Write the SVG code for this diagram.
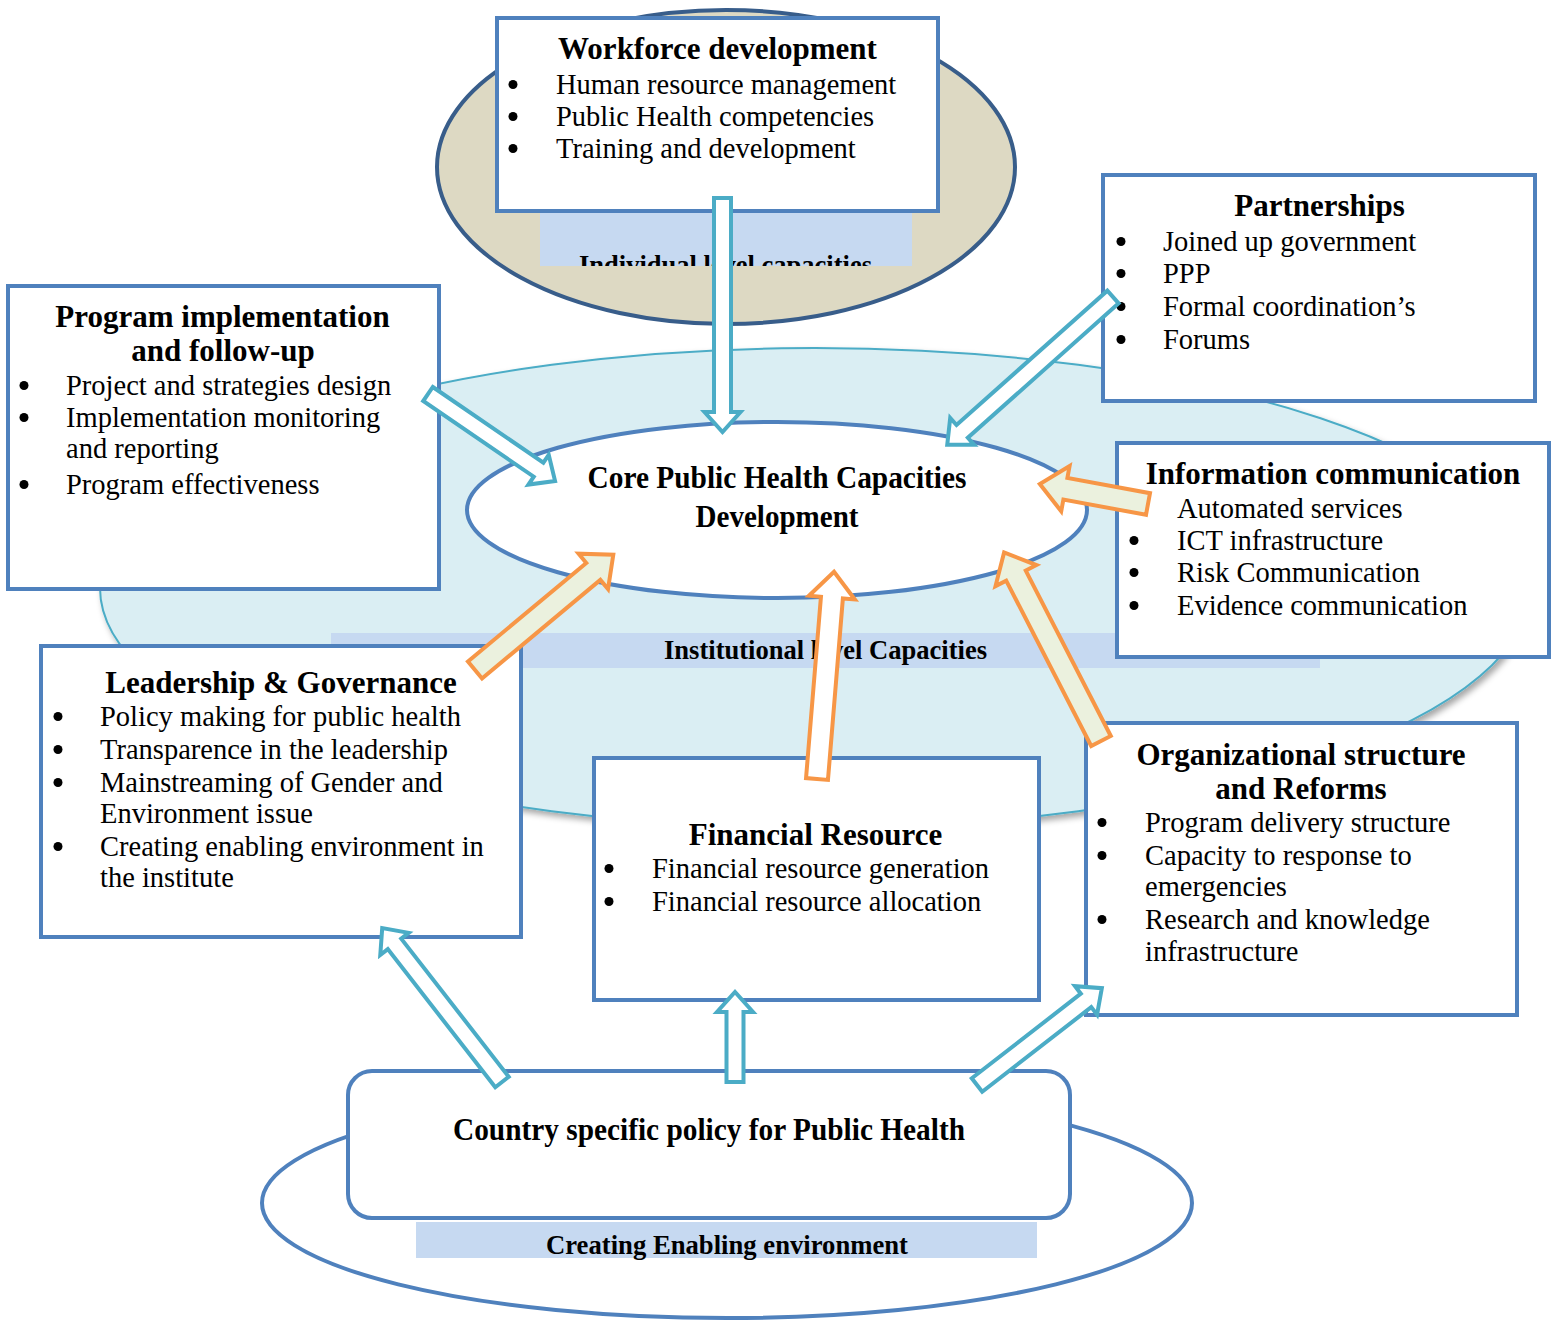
<svg xmlns="http://www.w3.org/2000/svg" width="1551" height="1320" viewBox="0 0 1551 1320">
<defs>
<style>
.box{fill:#fff;stroke:#4F81BD;stroke-width:4}
.t{font-family:"Liberation Serif","Times New Roman",serif;font-size:28.5px;fill:#000}
.dot{fill:#000}
.h{font-family:"Liberation Serif","Times New Roman",serif;font-size:31px;font-weight:bold;text-anchor:middle;fill:#000}
.c{font-family:"Liberation Serif","Times New Roman",serif;font-weight:bold;text-anchor:middle;fill:#000}
.band{fill:#C6D9F1}
.ab{fill:#fff;stroke:#4BACC6;stroke-width:4}
.ao{fill:#EBF1DE;stroke:#F79646;stroke-width:4}
</style>
<filter id="sh" x="-5%" y="-5%" width="115%" height="120%">
<feDropShadow dx="3" dy="4" stdDeviation="3" flood-color="#000" flood-opacity="0.35"/>
</filter>
<clipPath id="clipInd"><rect x="540" y="212" width="372" height="54"/></clipPath>
</defs>
<rect width="1551" height="1320" fill="#fff"/>

<g id="institutional-level">
<ellipse cx="815" cy="588" rx="715" ry="240" fill="#DAEEF3" stroke="#4BACC6" stroke-width="2" filter="url(#sh)"/>
</g>

<g id="individual-level">
<ellipse cx="726" cy="167" rx="289" ry="157" fill="#DDD9C3" stroke="#385D8A" stroke-width="4"/>
<rect class="band" x="540" y="212" width="372" height="54"/>
<text class="c" x="725.5" y="274" font-size="27" textLength="293" lengthAdjust="spacingAndGlyphs" clip-path="url(#clipInd)">Individual level capacities</text>
</g>

<g id="workforce">
<rect class="box" x="497" y="18" width="441" height="193"/>
<text class="h" x="717.5" y="59">Workforce development</text>
<circle class="dot" cx="513" cy="84.5" r="4.5"/><text class="t" x="556" y="94">Human resource management</text>
<circle class="dot" cx="513" cy="116.5" r="4.5"/><text class="t" x="556" y="126">Public Health competencies</text>
<circle class="dot" cx="513" cy="148.5" r="4.5"/><text class="t" x="556" y="158">Training and development</text>
</g>

<g id="core">
<ellipse cx="777" cy="510" rx="310" ry="88" fill="#fff" stroke="#4F81BD" stroke-width="4"/>
<text class="c" x="777" y="488" font-size="32" textLength="379" lengthAdjust="spacingAndGlyphs">Core Public Health Capacities</text>
<text class="c" x="777" y="527" font-size="32" textLength="163" lengthAdjust="spacingAndGlyphs">Development</text>
</g>

<g id="institutional-label">
<rect class="band" x="331" y="633" width="989" height="35"/>
<text class="c" x="825.5" y="659" font-size="28" textLength="323" lengthAdjust="spacingAndGlyphs">Institutional level Capacities</text>
</g>

<g id="enabling-environment">
<ellipse cx="727" cy="1203" rx="465" ry="115" fill="#fff" stroke="#4F81BD" stroke-width="4"/>
<rect class="band" x="416" y="1222" width="621" height="36"/>
<text class="c" x="727" y="1254" font-size="27" textLength="362" lengthAdjust="spacingAndGlyphs">Creating Enabling environment</text>
</g>

<g id="policy">
<rect class="box" x="348" y="1071" width="722" height="147" rx="24"/>
<text class="c" x="709" y="1140" font-size="31" textLength="512" lengthAdjust="spacingAndGlyphs">Country specific policy for Public Health</text>
</g>

<g id="program">
<rect class="box" x="8" y="286" width="431" height="303"/>
<text class="h" x="222.5" y="327">Program implementation</text>
<text class="h" x="223" y="361">and follow-up</text>
<circle class="dot" cx="24" cy="385.5" r="4.5"/><text class="t" x="66" y="395">Project and strategies design</text>
<circle class="dot" cx="24" cy="417.5" r="4.5"/><text class="t" x="66" y="427">Implementation monitoring</text>
<text class="t" x="66" y="458">and reporting</text>
<circle class="dot" cx="24" cy="484.5" r="4.5"/><text class="t" x="66" y="494">Program effectiveness</text>
</g>

<g id="partnerships">
<rect class="box" x="1103" y="175" width="432" height="226"/>
<text class="h" x="1319.5" y="216">Partnerships</text>
<circle class="dot" cx="1121" cy="241.5" r="4.5"/><text class="t" x="1163" y="251">Joined up government</text>
<circle class="dot" cx="1121" cy="273.5" r="4.5"/><text class="t" x="1163" y="283">PPP</text>
<circle class="dot" cx="1121" cy="306.5" r="4.5"/><text class="t" x="1163" y="316">Formal coordination’s</text>
<circle class="dot" cx="1121" cy="339.5" r="4.5"/><text class="t" x="1163" y="349">Forums</text>
</g>

<g id="information">
<rect class="box" x="1117" y="443" width="432" height="214"/>
<text class="h" x="1333" y="484">Information communication</text>
<text class="t" x="1177" y="518">Automated services</text>
<circle class="dot" cx="1134" cy="540.5" r="4.5"/><text class="t" x="1177" y="550">ICT infrastructure</text>
<circle class="dot" cx="1134" cy="572.5" r="4.5"/><text class="t" x="1177" y="582">Risk Communication</text>
<circle class="dot" cx="1134" cy="605.5" r="4.5"/><text class="t" x="1177" y="615">Evidence communication</text>
</g>

<g id="leadership">
<rect class="box" x="41" y="646" width="480" height="291"/>
<text class="h" x="281" y="693">Leadership &amp; Governance</text>
<circle class="dot" cx="58" cy="716.5" r="4.5"/><text class="t" x="100" y="726">Policy making for public health</text>
<circle class="dot" cx="58" cy="749.5" r="4.5"/><text class="t" x="100" y="759">Transparence in the leadership</text>
<circle class="dot" cx="58" cy="782.5" r="4.5"/><text class="t" x="100" y="792">Mainstreaming of Gender and</text>
<text class="t" x="100" y="823">Environment issue</text>
<circle class="dot" cx="58" cy="846.5" r="4.5"/><text class="t" x="100" y="856">Creating enabling environment in</text>
<text class="t" x="100" y="887">the institute</text>
</g>

<g id="financial">
<rect class="box" x="594" y="758" width="445" height="242"/>
<text class="h" x="815.5" y="845">Financial Resource</text>
<circle class="dot" cx="609" cy="868.5" r="4.5"/><text class="t" x="652" y="878">Financial resource generation</text>
<circle class="dot" cx="609" cy="901.5" r="4.5"/><text class="t" x="652" y="911">Financial resource allocation</text>
</g>

<g id="organizational">
<rect class="box" x="1086" y="723" width="431" height="292"/>
<text class="h" x="1301" y="765">Organizational structure</text>
<text class="h" x="1301" y="799">and Reforms</text>
<circle class="dot" cx="1102" cy="822.5" r="4.5"/><text class="t" x="1145" y="832">Program delivery structure</text>
<circle class="dot" cx="1102" cy="855.5" r="4.5"/><text class="t" x="1145" y="865">Capacity to response to</text>
<text class="t" x="1145" y="896">emergencies</text>
<circle class="dot" cx="1102" cy="919.5" r="4.5"/><text class="t" x="1145" y="929">Research and knowledge</text>
<text class="t" x="1145" y="961">infrastructure</text>
</g>

<g id="connectors">
<path class="ab" transform="translate(722.5,198) rotate(90)" d="M0,-8.5H214V-18L234,0L214,18V8.5H0Z"/>
<path class="ab" transform="translate(1113,297) rotate(138.3)" d="M0,-8.5H202V-18L222,0L202,18V8.5H0Z"/>
<path class="ab" transform="translate(428,394) rotate(34.4)" d="M0,-8.5H134V-18L154,0L134,18V8.5H0Z"/>
<path class="ab" transform="translate(502,1082) rotate(-127.9)" d="M0,-8.5H175V-18L195,0L175,18V8.5H0Z"/>
<path class="ab" transform="translate(735,1082) rotate(-90)" d="M0,-8.5H70V-18L90,0L70,18V8.5H0Z"/>
<path class="ab" transform="translate(977,1085) rotate(-37.8)" d="M0,-8.5H138V-18L158,0L138,18V8.5H0Z"/>
<path class="ao" transform="translate(475,670) rotate(-39.8)" d="M0,-11H154V-23L180,0L154,23V11H0Z"/>
<path class="ao" style="fill:#fff" transform="translate(817,779) rotate(-85.3)" d="M0,-11H182V-23L208,0L182,23V11H0Z"/>
<path class="ao" transform="translate(1101,741) rotate(-117.2)" d="M0,-11H186V-23L212,0L186,23V11H0Z"/>
<path class="ao" transform="translate(1148,504) rotate(-169.5)" d="M0,-11H84V-23L110,0L84,23V11H0Z"/>
</g>
</svg>
